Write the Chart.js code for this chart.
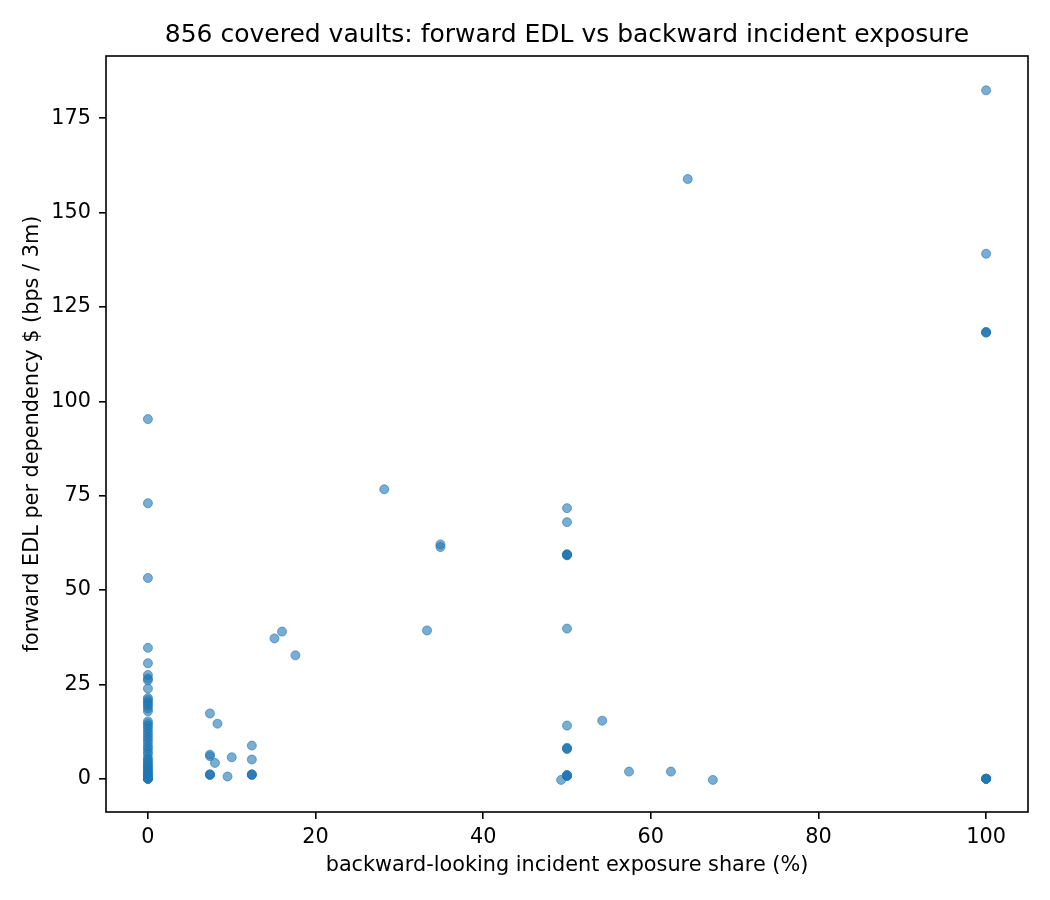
<!DOCTYPE html>
<html lang="en">
  <head>
    <meta charset="UTF-8">
    <title>Forward EDL vs backward incident exposure</title>
    <style>
      body { margin: 0; background: #fff; }
      canvas { display: block; }
    </style>
  </head>
  <body>
    <canvas id="myChart" width="1050" height="900"></canvas>

    <script src="https://cdn.jsdelivr.net/npm/chart.js"></script>
    <script>
      // backward-looking incident exposure share (%) and forward EDL, one entry per marker
      const exposure = [
        0, 0, 0, 0, 0, 0, 0, 0, 0, 0, 0, 0, 0, 0, 0, 0,
        0, 0, 0, 0, 0, 0, 0, 0, 0, 0, 0, 0, 0, 0, 0, 0,
        0, 0, 0, 0, 0, 0, 0, 0, 0, 0, 0, 0, 0, 0, 0, 0,
        7.4, 7.4, 7.4, 7.4, 7.4, 7.4, 8.0, 8.3, 9.5, 10.0,
        12.4, 12.4, 12.4, 12.4, 12.4,
        15.1, 16.0, 17.6, 28.2, 34.9, 34.9, 33.3,
        49.3, 50, 50, 50, 50, 50, 50, 50, 50, 50, 50, 50, 50, 50, 50, 50,
        54.2, 57.4, 62.4, 64.4, 67.4,
        100, 100, 100, 100, 100, 100, 100, 100, 100, 100
      ];
      const edl = [
        95.3, 73.0, 53.2, 34.7, 30.6, 27.5, 26.6, 26.1, 23.9, 21.4, 20.9, 20.3, 19.8, 19.3, 18.6, 17.9,
        15.2, 14.6, 14.0, 13.3, 12.5, 11.8, 11.0, 10.3, 9.5, 8.6, 8.0, 7.2, 6.5, 5.5, 5.0, 4.5,
        4.0, 3.6, 3.2, 2.8, 2.4, 2.0, 1.6, 1.3, 1.0, 0.8, 0.5, 0.2, 0, 0, 0, 0,
        17.3, 6.4, 6.0, 1.2, 1.0, 1.1, 4.2, 14.6, 0.6, 5.7,
        8.8, 5.1, 1.2, 1.0, 1.1,
        37.2, 39.0, 32.7, 76.7, 62.1, 61.4, 39.3,
        -0.3, 71.7, 68.0, 59.5, 59.3, 59.2, 59.4, 39.8, 14.1, 8.2, 8.0, 7.9, 0.9, 0.8, 0.7, 1.0,
        15.4, 1.9, 1.9, 158.9, -0.3,
        182.4, 139.1, 118.3, 118.4, 118.2, 0, 0, 0, 0, 0
      ];
      const xTicks = [0, 20, 40, 60, 80, 100];
      const yTicks = [0, 25, 50, 75, 100, 125, 150, 175];
      const titleText = "856 covered vaults: forward EDL vs backward incident exposure";

      const FONT = "'DejaVu Sans', sans-serif";
      const blue = "rgba(31, 119, 180, 0.6)";

      // axes box on all four sides plus the centred title
      const frame = {
        id: "frame",
        afterDraw(chart) {
          const { ctx, chartArea: a } = chart;
          ctx.save();
          ctx.strokeStyle = "#000";
          ctx.lineWidth = 1.6;
          ctx.strokeRect(a.left, a.top, a.right - a.left, a.bottom - a.top);
          ctx.fillStyle = "#000";
          ctx.font = "25px " + FONT;
          ctx.textAlign = "center";
          ctx.textBaseline = "middle";
          ctx.fillText(titleText, (a.left + a.right) / 2, 35);
          ctx.restore();
        }
      };

      const ctx = document.getElementById("myChart").getContext("2d");
      new Chart(ctx, {
        type: "scatter",
        data: {
          datasets: [{
            data: exposure.map((x, i) => ({ x: x, y: edl[i] })),
            backgroundColor: blue,
            borderColor: blue,
            borderWidth: 1,
            pointRadius: 4.5,
          }]
        },
        options: {
          responsive: false,
          animation: false,
          devicePixelRatio: 1,
          layout: { padding: { left: 0, right: 22, top: 56, bottom: 0 } },
          plugins: {
            legend: { display: false },
            tooltip: { enabled: false },
            title: { display: false }
          },
          scales: {
            x: {
              type: "linear",
              min: -5,
              max: 105,
              afterBuildTicks: s => { s.ticks = xTicks.map(v => ({ value: v })); },
              afterFit: s => { s.height = 88; },
              border: { display: false },
              grid: { drawOnChartArea: false, drawTicks: true, tickLength: 7, color: "#000", lineWidth: 1.6 },
              ticks: { color: "#000", font: { family: FONT, size: 20.8 }, padding: 6, maxRotation: 0 },
              title: {
                display: true,
                text: "backward-looking incident exposure share (%)",
                color: "#000",
                font: { family: FONT, size: 20.8 },
                padding: { top: 0, bottom: 22 }
              }
            },
            y: {
              type: "linear",
              min: -8.8,
              max: 191.5,
              afterBuildTicks: s => { s.ticks = yTicks.map(v => ({ value: v })); },
              afterFit: s => { s.width = 106; },
              border: { display: false },
              grid: { drawOnChartArea: false, drawTicks: true, tickLength: 7, color: "#000", lineWidth: 1.6 },
              ticks: { color: "#000", font: { family: FONT, size: 20.8 }, padding: 8 },
              title: {
                display: true,
                text: "forward EDL per dependency $ (bps / 3m)",
                color: "#000",
                font: { family: FONT, size: 20.8 },
                padding: { top: 20, bottom: 0 }
              }
            }
          }
        },
        plugins: [frame]
      });
    </script>
  </body>
</html>
